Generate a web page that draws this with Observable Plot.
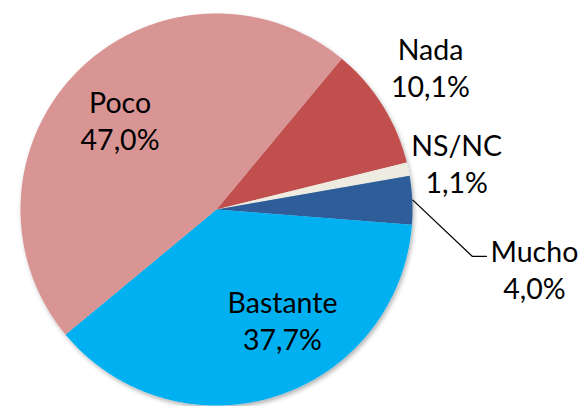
<!DOCTYPE html>
<html>
<head>
<meta charset="utf-8">
<script src="https://cdn.jsdelivr.net/npm/d3@7"></script>
<script src="https://cdn.jsdelivr.net/npm/@observablehq/plot@0.6"></script>
<style>
  html, body { margin: 0; padding: 0; background: #fff; }
  #chart { width: 583px; height: 406px; }
</style>
</head>
<body>
<div id="chart"></div>
<script>
// ---- data (clockwise order, as drawn) ----
const labels = ["Nada", "NS/NC", "Mucho", "Bastante", "Poco"];
const values = [10.1, 1.1, 4.0, 37.7, 47.0];
const colors = ["#C0504D", "#EEECE1", "#2D5D99", "#00B0F0", "#D99594"];

// ---- layout ----
const W = 583, H = 406;
const CX = 216, CY = 209, R = 196;
const START = 39.7;           // degrees, clockwise from 12 o'clock
// label placement: angle offset from slice mid-angle (deg), radius factor
const labelAngleOffset = [-1.7, 0.8, 13.3, -13.4, -2.1];
const labelRadius = [1.314, 1.249, 1.65, 0.654, 0.672];

const rad = d => d * Math.PI / 180;
const total = d3.sum(values);
const fmt = v => v.toFixed(1).replace(".", ",") + "%";

// slice polygons computed from the values
const slicePts = [];
const labelData = [];
let a = START;
values.forEach((v, i) => {
  const span = v / total * 360;
  const a0 = a, a1 = a + span;
  const n = Math.max(2, Math.ceil(span / 0.5));
  slicePts.push({label: labels[i], x: 0, y: 0});
  for (let j = 0; j <= n; j++) {
    const t = rad(a0 + (a1 - a0) * j / n);
    slicePts.push({label: labels[i], x: Math.sin(t), y: Math.cos(t)});
  }
  slicePts.push({label: labels[i], x: 0, y: 0});
  const mid = (a0 + a1) / 2;
  const la = rad(mid + labelAngleOffset[i]);
  labelData.push({
    label: labels[i], value: values[i], mid,
    x: Math.sin(la) * labelRadius[i],
    y: Math.cos(la) * labelRadius[i]
  });
  a = a1;
});

// leader line for "Mucho"
const mu = labelData[labels.indexOf("Mucho")];
const leader = [
  {x: Math.sin(rad(mu.mid)) * 1.003, y: Math.cos(rad(mu.mid)) * 1.003},
  {x: mu.x - 62 / R, y: mu.y + 12.4 / R},
  {x: mu.x - 48 / R, y: mu.y + 12.4 / R}
];

const svg = Plot.plot({
  width: W, height: H,
  margin: 0,
  style: {fontFamily: "Lato, 'Open Sans', sans-serif", background: "#fff", color: "#000"},
  x: {type: "linear", domain: [-1, 1], range: [CX - R, CX + R], axis: null},
  y: {type: "linear", domain: [-1, 1], range: [CY + R, CY - R], axis: null},
  color: {domain: labels, range: colors},
  marks: [
    Plot.line(slicePts, {x: "x", y: "y", z: "label", fill: "label", stroke: "none", curve: "linear"}),
    Plot.line(leader, {x: "x", y: "y", stroke: "#000", strokeWidth: 1.3}),
    Plot.text(labelData, {
      x: "x", y: "y",
      text: d => `${d.label}\n${fmt(d.value)}`,
      fontSize: 28.5, lineHeight: 1.31, fill: "#000",
      textAnchor: "middle", lineAnchor: "middle"
    })
  ]
});

const s = d3.select(svg);
s.insert("defs", ":first-child").html(
  '<filter id="pieShadow" x="-10%" y="-10%" width="125%" height="125%">' +
  '<feDropShadow dx="1.5" dy="2.5" stdDeviation="2" flood-color="#000" flood-opacity="0.3"/></filter>'
);
s.select('g[aria-label="line"]').attr("filter", "url(#pieShadow)");

document.getElementById("chart").appendChild(svg);
</script>
</body>
</html>
